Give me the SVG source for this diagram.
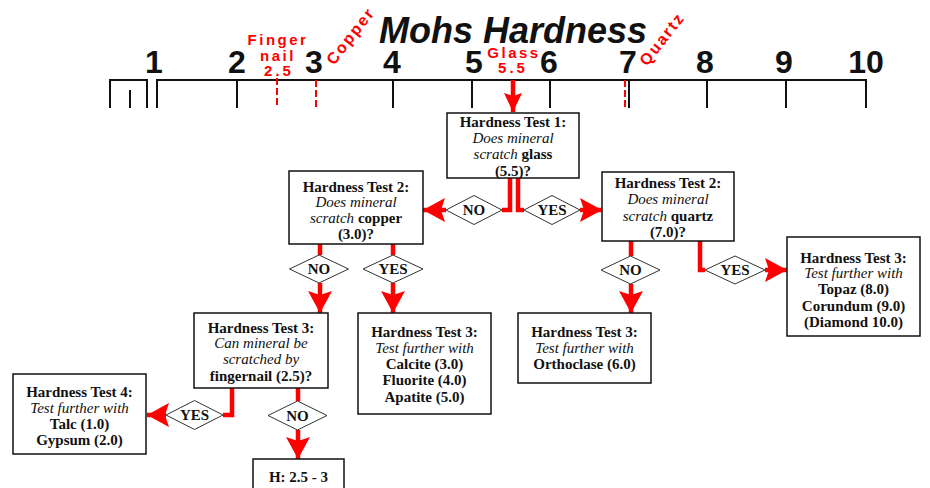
<svg xmlns="http://www.w3.org/2000/svg" width="930" height="488" viewBox="0 0 930 488">
<style>
.bx{fill:#fff;stroke:#111;stroke-width:1.5}
.dm{fill:#fff;stroke:#333;stroke-width:1}
.t{font-family:"Liberation Serif","Times New Roman",serif;font-size:15px;fill:#111;text-anchor:middle}
.b{font-weight:bold}
.i{font-style:italic}
.dt{font-family:"Liberation Serif","Times New Roman",serif;font-size:15px;font-weight:bold;fill:#111;text-anchor:middle}
.num{font-family:"Liberation Sans",Arial,sans-serif;font-size:32px;font-weight:bold;fill:#111;text-anchor:middle}
.red{font-family:"Liberation Sans",Arial,sans-serif;font-weight:bold;fill:#f00}
.rl{stroke:#111;stroke-width:2;fill:none}
.dash{stroke:#f00;stroke-width:2;stroke-dasharray:7 3;fill:none}
.c{stroke:#f00;stroke-width:4.5;fill:none;stroke-linejoin:miter}
.ca{stroke:#f00;stroke-width:4.5;fill:none;marker-end:url(#ah)}
</style>
<defs>
<marker id="ah" markerUnits="userSpaceOnUse" viewBox="0 0 22 24" markerWidth="22" markerHeight="24" refX="22" refY="12" orient="auto">
<path d="M0,0 L22,12 L0,24 L4,12 Z" fill="#f00"/>
</marker>
<marker id="ahs" markerUnits="userSpaceOnUse" viewBox="0 0 19 18" markerWidth="19" markerHeight="18" refX="19" refY="9" orient="auto">
<path d="M0,0 L19,9 L0,18 L3,9 Z" fill="#f00"/>
</marker>
</defs>
<rect width="930" height="488" fill="#fff"/>

<g id="ruler">
<text x="513" y="43" font-family="'Liberation Sans',Arial,sans-serif" font-size="36" font-weight="bold" font-style="italic" fill="#111" text-anchor="middle">Mohs Hardness</text>
<path class="rl" d="M110,108 V80 H147 V108 M130,90 V108"/>
<path class="rl" d="M157,108 V80 H866 V108 M237,80 V108 M393,80 V108 M472,80 V108 M550,80 V108 M629,80 V108 M707,80 V108 M786,80 V108"/>
<path class="dash" d="M277,78 V108 M316,80 V108 M625,80 V108"/>
<text class="num" x="154" y="73">1</text>
<text class="num" x="237" y="73">2</text>
<text class="num" x="314" y="73">3</text>
<text class="num" x="392" y="73">4</text>
<text class="num" x="474" y="73">5</text>
<text class="num" x="549" y="73">6</text>
<text class="num" x="628" y="73">7</text>
<text class="num" x="705" y="73">8</text>
<text class="num" x="784" y="73">9</text>
<text class="num" x="866" y="73">10</text>
<text class="red" font-size="15" letter-spacing="2.5" text-anchor="middle" x="278" y="45">Finger</text>
<text class="red" font-size="15" letter-spacing="2.5" text-anchor="middle" x="278" y="61">nail</text>
<text class="red" font-size="15" letter-spacing="3" text-anchor="middle" x="279" y="76">2.5</text>
<text class="red" font-size="15" letter-spacing="2.5" text-anchor="middle" x="514" y="58">Glass</text>
<text class="red" font-size="15" letter-spacing="3" text-anchor="middle" x="513" y="73">5.5</text>
<text class="red" font-size="16" letter-spacing="2" transform="translate(334,66) rotate(-52)">Copper</text>
<text class="red" font-size="16" letter-spacing="2" transform="translate(647,67) rotate(-52)">Quartz</text>
</g>

<g id="connectors">
<line class="c" x1="513" y1="80" x2="513" y2="112" stroke-width="4" marker-end="url(#ahs)"/>
<path class="c" d="M510,178 V210 H502"/>
<path class="ca" d="M446,210 H423"/>
<path class="c" d="M518,178 V210 H524"/>
<path class="ca" d="M580,210 H602"/>
<path class="c" d="M320,244 V255"/>
<path class="ca" d="M320,283 V313"/>
<path class="c" d="M393,244 V255"/>
<path class="ca" d="M393,283 V313"/>
<path class="c" d="M631,241 V256"/>
<path class="ca" d="M631,284 V313"/>
<path class="c" d="M700,241 V270 H705"/>
<path class="ca" d="M765,270 H787"/>
<path class="c" d="M232,388 V415 H223"/>
<path class="ca" d="M166,415 H147"/>
<path class="c" d="M298,388 V401"/>
<path class="ca" d="M298,430 V459"/>
</g>

<g id="labels">
<g id="d1no"><polygon class="dm" points="446,210 474,195.5 502,210 474,224.5"/><text class="dt" x="474" y="215">NO</text></g>
<g id="d1yes"><polygon class="dm" points="524,210 552,195.5 580,210 552,224.5"/><text class="dt" x="552" y="215">YES</text></g>
<g id="d2lno"><polygon class="dm" points="289.5,269 319,255 348.5,269 319,283"/><text class="dt" x="319" y="274">NO</text></g>
<g id="d2lyes"><polygon class="dm" points="363,269 393,255 423,269 393,283"/><text class="dt" x="393" y="274">YES</text></g>
<g id="d2rno"><polygon class="dm" points="601,270 630.5,256 660,270 630.5,284"/><text class="dt" x="630.5" y="275">NO</text></g>
<g id="d2ryes"><polygon class="dm" points="705,270 735,256 765,270 735,284"/><text class="dt" x="735" y="275">YES</text></g>
<g id="d3yes"><polygon class="dm" points="166,415 194.5,400.5 223,415 194.5,429.5"/><text class="dt" x="194.5" y="420">YES</text></g>
<g id="d3no"><polygon class="dm" points="268,415.5 297.5,401 327,415.5 297.5,430"/><text class="dt" x="297.5" y="420.5">NO</text></g>
</g>

<g id="test1">
<rect class="bx" x="447" y="113" width="132" height="65"/>
<text class="t b" x="513" y="126.5">Hardness Test 1:</text>
<text class="t i" x="513" y="143">Does mineral</text>
<text class="t" x="513" y="159"><tspan class="i">scratch</tspan> <tspan class="b">glass</tspan></text>
<text class="t b" x="513" y="175.5">(5.5)?</text>
</g>

<g id="test2copper">
<rect class="bx" x="289" y="171" width="134" height="73"/>
<text class="t b" x="356" y="191.5">Hardness Test 2:</text>
<text class="t i" x="356" y="207">Does mineral</text>
<text class="t" x="356" y="223"><tspan class="i">scratch</tspan> <tspan class="b">copper</tspan></text>
<text class="t b" x="356" y="239">(3.0)?</text>
</g>

<g id="test2quartz">
<rect class="bx" x="602" y="172" width="132" height="69"/>
<text class="t b" x="668" y="188">Hardness Test 2:</text>
<text class="t i" x="668" y="204">Does mineral</text>
<text class="t" x="668" y="221"><tspan class="i">scratch</tspan> <tspan class="b">quartz</tspan></text>
<text class="t b" x="668" y="237">(7.0)?</text>
</g>

<g id="test3topaz">
<rect class="bx" x="787" y="237" width="133" height="99"/>
<text class="t b" x="853.5" y="262.5">Hardness Test 3:</text>
<text class="t i" x="853.5" y="278">Test further with</text>
<text class="t b" x="853.5" y="294">Topaz (8.0)</text>
<text class="t b" x="853.5" y="310.5">Corundum (9.0)</text>
<text class="t b" x="853.5" y="326.5">(Diamond 10.0)</text>
</g>

<g id="test3orthoclase">
<rect class="bx" x="518" y="313" width="133" height="70"/>
<text class="t b" x="584.5" y="337">Hardness Test 3:</text>
<text class="t i" x="584.5" y="353">Test further with</text>
<text class="t b" x="584.5" y="369">Orthoclase (6.0)</text>
</g>

<g id="test3fingernail">
<rect class="bx" x="194" y="313" width="134" height="75"/>
<text class="t b" x="261" y="332.5">Hardness Test 3:</text>
<text class="t i" x="261" y="348">Can mineral be</text>
<text class="t i" x="261" y="364">scratched by</text>
<text class="t b" x="261" y="380.5">fingernail (2.5)?</text>
</g>

<g id="test3calcite">
<rect class="bx" x="358" y="313" width="133" height="101"/>
<text class="t b" x="424.5" y="336.5">Hardness Test 3:</text>
<text class="t i" x="424.5" y="352.5">Test further with</text>
<text class="t b" x="424.5" y="369">Calcite (3.0)</text>
<text class="t b" x="424.5" y="385">Fluorite (4.0)</text>
<text class="t b" x="424.5" y="401.5">Apatite (5.0)</text>
</g>

<g id="test4">
<rect class="bx" x="13" y="374" width="133" height="80"/>
<text class="t b" x="79.5" y="397">Hardness Test 4:</text>
<text class="t i" x="79.5" y="413">Test further with</text>
<text class="t b" x="79.5" y="429">Talc (1.0)</text>
<text class="t b" x="79.5" y="445">Gypsum (2.0)</text>
</g>

<g id="h25">
<rect class="bx" x="253" y="459" width="91" height="40"/>
<text class="t b" x="298.5" y="482">H: 2.5 - 3</text>
</g>
</svg>
